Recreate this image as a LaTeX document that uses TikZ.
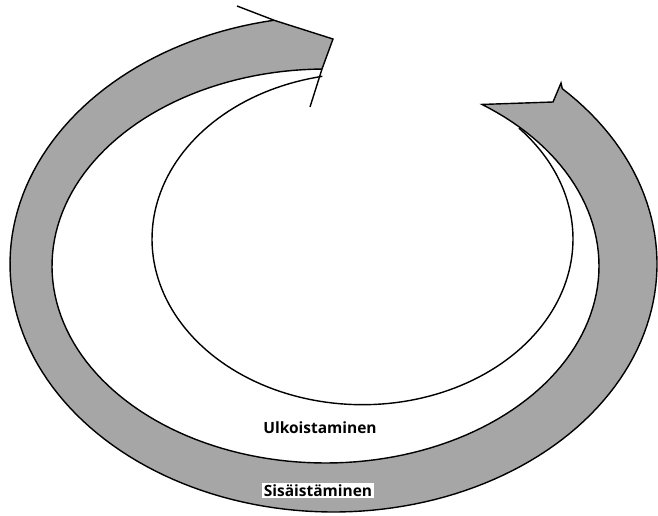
\documentclass[tikz,border=0pt]{standalone}
\usepackage{fontspec}
\setmainfont{Open Sans}
\definecolor{bandgray}{RGB}{166,166,166}
\tikzset{
  outline/.style={draw=black, line width=1.4pt, line join=miter},
  thin/.style={draw=black, line width=1.4pt},
  lbl/.style={font=\bfseries\fontsize{15.5}{17}\selectfont, inner sep=2pt}
}
\begin{document}
\begin{tikzpicture}[x=1pt,y=-1pt]
\useasboundingbox (0,0) rectangle (658,515);
% gray band (Sisaistaminen) with arrow head and notched tail
\filldraw[outline, fill=bandgray]
  (553,102) -- (561,83)
  -- plot[domain=45:-259.4, samples=160] ({333.5+323.5*cos(\x)},{264-248*sin(\x)})
  -- (333,39) -- (322,69)
  -- plot[domain=90.7:415.1, samples=160] ({325.5+273.5*cos(\x)},{266-197*sin(\x)})
  -- cycle;
% arrow head barbs outside the band
\coordinate (barbA) at (237,6);
\coordinate (barbB) at (274,20.2);
\coordinate (barbC) at (322,69);
\coordinate (barbD) at (310,107);
\draw[thin] (barbA) -- (barbB);
\draw[thin] (barbC) -- (barbD);
% inner arc (Ulkoistaminen)
\draw[thin] plot[domain=101:402, samples=160] ({362.5+210.5*cos(\x)},{239-165.7*sin(\x)});
% labels
\node[lbl] (ulko) at (320,428) {Ulkoistaminen};
\node[lbl, fill=white] (sisa) at (318,490.5) {Sisäistäminen};
\end{tikzpicture}
\end{document}
